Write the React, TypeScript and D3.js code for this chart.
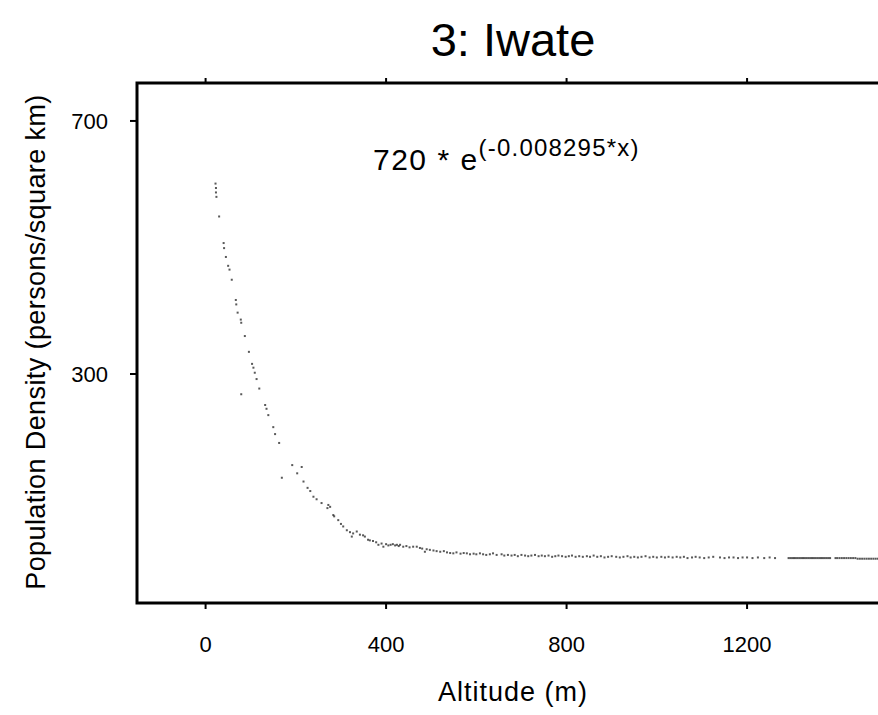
import React from "react";
import * as d3 from "d3";

const titleText = "3: Iwate";
const xLabel = "Altitude (m)";
const yLabel = "Population Density (persons/square km)";
const eqMain = "720 * e";
const eqSup = "(-0.008295*x)";

const xTicks = [0, 400, 800, 1200];
const yTicks = [300, 700];

// altitude (m)
const altitude = [
  22, 23, 23, 24, 30, 40, 41, 45, 50, 53, 58, 67, 68, 71, 78, 79, 87, 96, 103, 106,
  109, 113, 119, 79, 132, 135, 139, 150, 154, 163, 169, 192, 203, 213, 217, 226, 232, 239, 246, 257,
  270, 272, 276, 283, 285, 294, 300, 305, 313, 320, 324, 327, 335, 342, 349, 353, 360, 364, 371, 378,
  383, 390, 394, 400, 405, 410, 415, 420, 424, 428, 431, 438, 445, 452, 460, 468, 475, 480, 486, 490,
  497, 505, 512, 520, 528, 535, 542, 549, 556, 565, 572, 579, 586, 594, 600, 608, 615, 622, 630, 637,
  645, 656, 662, 670, 678, 685, 692, 700, 708, 715, 722, 730, 738, 745, 752, 760, 768, 775, 782, 790,
  798, 805, 812, 820, 828, 836, 845, 852, 860, 868, 876, 884, 892, 900, 910, 918, 926, 935, 942, 950,
  958, 966, 975, 984, 992, 1000, 1010, 1018, 1026, 1035, 1044, 1052, 1060, 1068, 1078, 1086, 1095, 1105, 1115, 1125,
  1140, 1150, 1160, 1170, 1180, 1190, 1200, 1212, 1224, 1238, 1250, 1262,
  1292, 1296, 1300, 1304, 1308, 1312, 1316, 1320, 1324, 1328, 1332, 1336, 1340, 1344, 1348, 1352, 1356, 1360, 1364, 1368,
  1372, 1376, 1380, 1384, 1396, 1400, 1405, 1410, 1415, 1420, 1425, 1430, 1435, 1440, 1445, 1450, 1455, 1460, 1465, 1470,
  1475, 1480, 1485, 1490,
];

// population density (persons/square km)
const density = [
  601, 594, 587, 580, 549, 507, 499, 485, 471, 465, 449, 417, 410, 397, 386, 381, 360, 335, 316, 310,
  302, 292, 277, 268, 251, 245, 235, 216, 205, 191, 136, 156, 143, 153, 130, 120, 115, 106, 102, 96,
  88, 93, 90, 77, 75, 69, 63, 59, 53, 50, 43, 48, 51, 46, 45, 43, 38, 37, 36, 34,
  30, 32, 27, 31, 29, 30, 31, 29, 30, 28, 30, 27, 28, 26, 27, 27, 25, 24, 19, 23,
  22, 21, 20, 19, 20, 18, 17, 16.5, 18, 16, 17, 16.5, 15, 16, 15, 16.5, 15, 14, 15, 16.5,
  14, 15, 13, 14, 13, 14, 12, 14, 13, 12, 13, 14, 12, 13, 12, 13, 11, 12, 13, 12,
  11, 12, 13, 11, 12, 11, 12, 11, 13, 11, 12, 10, 11, 12, 11, 10, 11, 12, 10, 11,
  10, 11, 12, 10, 11, 10, 11, 10, 11, 10, 11, 10, 11, 9, 10, 11, 10, 9, 10, 11,
  10, 9, 10, 10, 9, 10, 10, 9, 10, 9, 10, 9,
  9, 9, 9, 9, 9, 9, 9, 9, 9, 9, 9, 9, 9, 9, 9, 9, 9, 9, 9, 9,
  9, 9, 9, 9, 9, 9, 9, 9, 9, 9, 9, 9, 9, 9, 8, 8, 8, 8, 8, 8,
  8, 8, 8, 8,
];

const W = 878;
const H = 715;
const plot = { left: 137, top: 83, bottom: 603, right: 905 };
const font = "'Liberation Sans', Arial, Helvetica, sans-serif";

export default function App() {
  const x = d3.scaleLinear().domain([-152, 1550]).range([plot.left, plot.right]);
  const y = d3.scaleLinear().domain([-62, 760]).range([plot.bottom, plot.top]);
  const pts = altitude.map((a, i) => ({ a, d: density[i] }));

  return (
    <svg
      width={W}
      height={H}
      style={{ position: "absolute", left: 0, top: 0, background: "#fff" }}
      fontFamily={font}
    >
      <rect x={0} y={0} width={W} height={H} fill="#fff" />
      <text x={513} y={56} textAnchor="middle" fontSize={47} fill="#000">
        {titleText}
      </text>

      {/* points */}
      <g fill="#222">
        {pts.map((p, i) => (
          <rect key={i} x={x(p.a) - 1} y={y(p.d) - 1} width={2} height={2} opacity={0.75} />
        ))}
      </g>

      {/* frame */}
      <rect
        x={plot.left}
        y={plot.top}
        width={plot.right - plot.left}
        height={plot.bottom - plot.top}
        fill="none"
        stroke="#000"
        strokeWidth={3}
      />

      {/* x ticks */}
      {xTicks.map((t) => (
        <g key={t}>
          <line x1={x(t)} x2={x(t)} y1={plot.bottom} y2={plot.bottom + 6} stroke="#000" strokeWidth={2} />
          <line x1={x(t)} x2={x(t)} y1={plot.top} y2={plot.top - 5} stroke="#000" strokeWidth={2} />
          <text x={x(t)} y={652} textAnchor="middle" fontSize={22} fill="#000">
            {t}
          </text>
        </g>
      ))}

      {/* y ticks */}
      {yTicks.map((t) => (
        <g key={t}>
          <line x1={plot.left - 7} x2={plot.left} y1={y(t)} y2={y(t)} stroke="#000" strokeWidth={2} />
          <text x={108} y={y(t) + 8} textAnchor="end" fontSize={22} fill="#000">
            {t}
          </text>
        </g>
      ))}

      <text x={513} y={701} textAnchor="middle" fontSize={27} letterSpacing={1} fill="#000">
        {xLabel}
      </text>
      <text
        transform={`translate(45, 342) rotate(-90)`}
        textAnchor="middle"
        fontSize={27}
        letterSpacing={0.4}
        fill="#000"
      >
        {yLabel}
      </text>

      <text x={373} y={170} fontSize={30} letterSpacing={1.5} fill="#000">
        {eqMain}
        <tspan dy={-14} fontSize={24} letterSpacing={1.2}>
          {eqSup}
        </tspan>
      </text>
    </svg>
  );
}
